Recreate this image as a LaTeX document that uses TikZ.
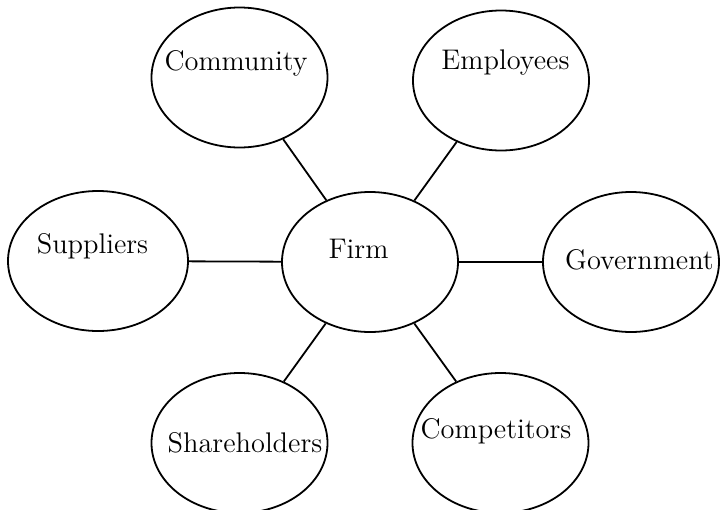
\documentclass[tikz,border=0pt]{standalone}
\usetikzlibrary{shapes.geometric}
\tikzstyle{party}=[
	ellipse,
	draw,
	line width=0.9pt,
	minimum width=88pt,
	minimum height=70pt,
	inner sep=0pt
]
\tikzstyle{partyname}=[
	anchor=base,
	inner sep=0pt,
	font=\fontsize{14.2}{17}\selectfont
]
\tikzstyle{tie}=[
	line width=0.9pt
]

\begin{document}
\begin{tikzpicture}[x=0.5pt,y=-0.5pt]
\useasboundingbox (0,0) rectangle (720,510);
\node [party] (Firm) at (370,262) {};
\node [party] (Community) at (239.5,77.5) {};
\node [party] (Employees) at (501,80.5) {};
\node [party, minimum width=90pt] (Suppliers) at (98,261) {};
\node [party] (Government) at (631,262) {};
\node [party] (Shareholders) at (239.5,443) {};
\node [party] (Competitors) at (500.5,443) {};
\node [partyname] (FirmName) at (358.5,258) {Firm};
\node [partyname] (CommunityName) at (236,70) {Community};
\node [partyname] (EmployeesName) at (505.5,69) {Employees};
\node [partyname] (SuppliersName) at (92.5,253) {Suppliers};
\node [partyname] (GovernmentName) at (639.5,269) {Government};
\node [partyname] (ShareholdersName) at (245,452) {Shareholders};
\node [partyname] (CompetitorsName) at (496,438) {Competitors};
\draw [tie] (Firm) -- (Community);
\draw [tie] (Firm) -- (Employees);
\draw [tie] (Firm) -- (Suppliers);
\draw [tie] (Firm) -- (Government);
\draw [tie] (Firm) -- (Shareholders);
\draw [tie] (Firm) -- (Competitors);
\end{tikzpicture}
\end{document}
